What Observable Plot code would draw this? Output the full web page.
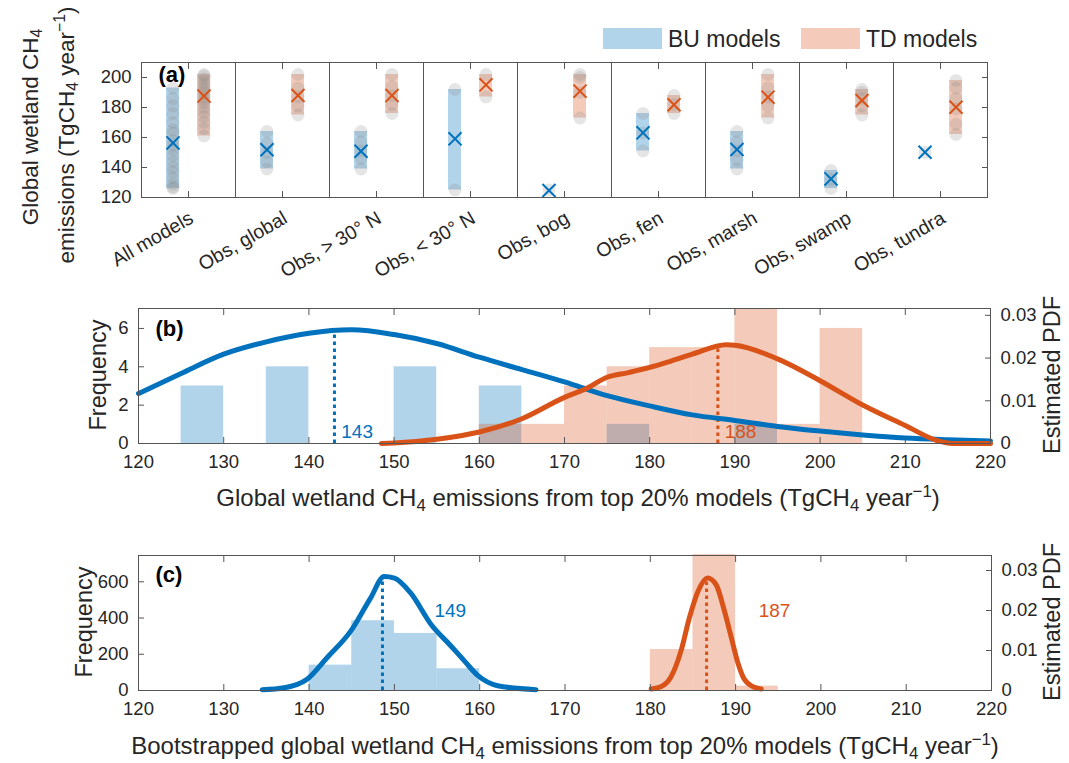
<!DOCTYPE html>
<html><head><meta charset="utf-8">
<script src="https://cdn.jsdelivr.net/npm/d3@7"></script>
<script src="https://cdn.jsdelivr.net/npm/@observablehq/plot@0.6"></script>
<style>
body{margin:0;background:#fff;font-family:"Liberation Sans",Arial,Helvetica,sans-serif;}
#fig{position:relative;width:1069px;height:763px;overflow:hidden;background:#fff;}
.p{position:absolute;left:0;}
.lab{position:absolute;white-space:nowrap;color:#262626;font-size:23.5px;line-height:1;}
.rot{transform:translate(-50%,-50%) rotate(-90deg);}
.hc{transform:translate(-50%,-50%);}
sub{font-size:70%;vertical-align:-0.3em;line-height:0;}
sup{font-size:70%;vertical-align:0.55em;line-height:0;}
.sw{position:absolute;}
</style>
</head><body>
<div id="fig"></div>
<script>
// ---------- DATA ----------
const BLUE = "#0072BD", ORANGE = "#D95319";
const catsA = ["All models","Obs, global","Obs, > 30° N","Obs, < 30° N","Obs, bog","Obs, fen","Obs, marsh","Obs, swamp","Obs, tundra"];
const buPoints = [
  [126,127,129,133,137,140,144,148,152,155,158,163,165,170,176,181,186,193],
  [139,144,150,156,164],
  [139,146,151,157,164],
  [125,192],
  [125],
  [151,163,176],
  [139,145,151,157,164],
  [126,132,138],
  [150]
];
const tdPoints = [
  [161,166,170,174,177,180,183,185,187,189,191,193,195,197,199,201,202],
  [175,181,187,193,202],
  [176,182,188,194,202],
  [187,202],
  [173,190,200,202],
  [176,182,188],
  [173,181,187,193,202],
  [175,181,186,190,192],
  [162,169,179,186,193,198]
];
const buMean = [156.4,151.8,150.8,159.1,124.7,163.1,152.0,132.4,150.2];
const tdMean = [187.6,188.0,188.0,195.1,190.9,181.8,186.9,184.7,180.2];

// panel b histograms (lower bin edge, counts), bin width 5
const binW = 5;
const bBuEdges = [125,135,150,160,175,190];
const bBuCounts = [3,4,4,3,1,1];
const bTdEdges = [160,165,170,175,180,185,190,195,200];
const bTdCounts = [1,1,3,4,5,5,7,1,6];
// panel b KDE (estimated PDF)
const bBuKdeX = [120,125,130,135,140,145,150,155,160,165,170,175,180,185,190,195,200,205,210,215,220];
const bBuKde  = [0.0117,0.0164,0.0209,0.0238,0.0258,0.0266,0.0255,0.0234,0.0202,0.0173,0.0144,0.0112,0.0088,0.0067,0.0054,0.0040,0.0029,0.0020,0.0013,0.0009,0.0006];
const bTdKdeX = [148.5,150,155,160,165,170,172.5,175,177.5,180,182.5,185,189,190,195,200,205,210,213.7,215.5,220];
const bTdKde  = [0,0.0001,0.0010,0.0027,0.0058,0.0108,0.0128,0.0155,0.0166,0.0178,0.0193,0.0209,0.0231,0.0230,0.0198,0.0147,0.0090,0.0042,0.0007,0,0];
const bModes = [143,188];
const bModePdf = [0.0264,0.0229];

// panel c histograms
const cBuEdges = [140,145,150,155];
const cBuCounts = [140,385,315,120];
const cTdEdges = [180,185,190];
const cTdCounts = [226,750,24];
const cBuKdeX = [134.5,137.1,139.8,142.1,144.9,147.2,148.8,150,151.9,154.3,156.6,158.2,159.8,162.1,166.6];
const cBuKde  = [0.0002,0.0007,0.0029,0.0082,0.0149,0.0231,0.0285,0.0281,0.0244,0.0165,0.0112,0.0074,0.0037,0.0012,0.0002];
const cTdKdeX = [180.1,181.3,182.4,183.6,184.6,185.6,186.7,187.7,188.7,189.5,190.3,191.0,192.2,193.0];
const cTdKde  = [0.0004,0.0010,0.0033,0.0099,0.0183,0.0248,0.0281,0.0265,0.0198,0.0132,0.0067,0.0029,0.0008,0.0004];
const cModes = [148.6,186.6];
const cModePdf = [0.0284,0.0280];

const xTicks = [120,130,140,150,160,170,180,190,200,210,220];
const aTicks = [120,140,160,180,200];
const bFreqTicks = [0,2,4,6];
const cFreqTicks = [0,200,400,600];
const pdfTicks = [0,0.01,0.02,0.03];

// axis extents
const aY = [120,210];
const bY = [0,7.04], bPdfTop = 0.0316;
const cY = [0,745], cPdfTop = 0.03375;

// ---------- BUILD ----------
const FONT = '"Liberation Sans",Arial,Helvetica,sans-serif';
const AX = "#555";
const fig = document.getElementById("fig");
const style = {fontFamily: FONT, fontSize: "18.5px", color: "#262626", background: "transparent", overflow: "visible"};

function place(svg, top){ svg.classList.add("p"); svg.style.top = top + "px"; fig.appendChild(svg); }

// Panel (a)
const ptsA = [], rngA = [], meanA = [];
catsA.forEach((c,i)=>{
  buPoints[i].forEach(v=>ptsA.push({cat:c,type:"BU",v}));
  tdPoints[i].forEach(v=>ptsA.push({cat:c,type:"TD",v}));
  rngA.push({cat:c,type:"BU",lo:d3.min(buPoints[i]),hi:d3.max(buPoints[i])});
  rngA.push({cat:c,type:"TD",lo:d3.min(tdPoints[i]),hi:d3.max(tdPoints[i])});
  meanA.push({cat:c,type:"BU",v:buMean[i]});
  meanA.push({cat:c,type:"TD",v:tdMean[i]});
});
const A = Plot.plot({
  width:1069, height:290, marginTop:62, marginBottom:93, marginLeft:138, marginRight:79,
  style,
  fx:{domain:catsA, padding:0, label:null},
  x:{type:"band", domain:["BU","TD"], paddingInner:0.58, paddingOuter:0.8, axis:null},
  y:{domain:aY, label:null},
  marks:[
    Plot.barY(rngA.filter(d=>d.type==="BU"),{fx:"cat",x:"type",y1:"lo",y2:"hi",fill:BLUE,fillOpacity:0.3}),
    Plot.barY(rngA.filter(d=>d.type==="TD"),{fx:"cat",x:"type",y1:"lo",y2:"hi",fill:ORANGE,fillOpacity:0.3}),
    Plot.dot(ptsA,{fx:"cat",x:"type",y:"v",r:6.5,fill:"#8a8a8a",fillOpacity:0.22,stroke:"none"}),
    Plot.dot(meanA.filter(d=>d.type==="BU"),{fx:"cat",x:"type",y:"v",symbol:"times",r:6,stroke:BLUE,strokeWidth:2}),
    Plot.dot(meanA.filter(d=>d.type==="TD"),{fx:"cat",x:"type",y:"v",symbol:"times",r:6,stroke:ORANGE,strokeWidth:2}),
    Plot.frame({stroke:AX}),
    Plot.axisY({anchor:"left", ticks:aTicks, tickSize:-6, fill:"none", stroke:AX, label:null}),
    Plot.axisY({anchor:"right", ticks:aTicks, tickSize:-6, fill:"none", stroke:AX, label:null}),
    Plot.axisY({anchor:"left", ticks:aTicks, tickFormat:d=>String(d), tickSize:0, tickPadding:10, stroke:"none", fill:"#262626", label:null}),
    Plot.axisFx({anchor:"bottom", tickSize:-6, fill:"none", stroke:AX, label:null}),
    Plot.axisFx({anchor:"top", tickSize:-6, fill:"none", stroke:AX, label:null}),
    Plot.axisFx({anchor:"bottom", tickSize:0, tickPadding:19, dx:3, tickRotate:-30, fontSize:19.5, stroke:"none", fill:"#262626", label:null}),
    Plot.text(["(a)"],{frameAnchor:"top-left", dx:17, dy:4, lineAnchor:"top", fontWeight:"bold", fontSize:22, fill:"#000", facetAnchor:"left"})
  ]
});
place(A, 0);

function panel(o){
  const K = o.yDom[1] / o.pdfTop;
  const mk = (edges, counts, color) => Plot.rectY(edges.map((e,i)=>({lo:e,hi:e+binW,n:counts[i]})),{x1:"lo",x2:"hi",y:"n",fill:color,fillOpacity:0.3,inset:0});
  const kde = (xs, ps) => xs.map((x,i)=>({x, f: ps[i]*K}));
  return Plot.plot({
    width:1069, height:o.h, marginTop:o.mt, marginBottom:o.mb, marginLeft:138, marginRight:o.mr,
    style,
    x:{domain:[120,220], label:null},
    y:{domain:o.yDom, label:null},
    marks:[
      mk(o.buE,o.buC,BLUE),
      mk(o.tdE,o.tdC,ORANGE),
      Plot.ruleX([0,1],{x:i=>o.modes[i], y1:0, y2:i=>o.modePdf[i]*K, stroke:i=>[BLUE,ORANGE][i], strokeWidth:3, strokeDasharray:"3.5,3.5"}),
      Plot.line(kde(o.buKx,o.buK),{x:"x",y:"f",stroke:BLUE,strokeWidth:5,curve:"monotone-x"}),
      Plot.line(kde(o.tdKx,o.tdK),{x:"x",y:"f",stroke:ORANGE,strokeWidth:5,curve:"monotone-x"}),
      Plot.text([0,1],{x:i=>o.modes[i]+o.lblDx, y:o.lblY, text:i=>d3.format(".0f")(o.modes[i]), fill:i=>[BLUE,ORANGE][i], textAnchor:"start", fontSize:19}),
      Plot.frame({stroke:AX}),
      Plot.axisX({anchor:"bottom", ticks:xTicks, tickSize:-6, fill:"none", stroke:AX, label:null}),
      Plot.axisX({anchor:"top", ticks:xTicks, tickSize:-6, fill:"none", stroke:AX, label:null}),
      Plot.axisX({anchor:"bottom", ticks:xTicks, tickFormat:d=>String(d), tickSize:0, tickPadding:11, stroke:"none", fill:"#262626", label:null}),
      Plot.axisY({anchor:"left", ticks:o.fTicks, tickSize:-6, fill:"none", stroke:AX, label:null}),
      Plot.axisY({anchor:"left", ticks:o.fTicks, tickFormat:d=>String(d), tickSize:0, tickPadding:10, stroke:"none", fill:"#262626", label:null}),
      Plot.axisY({anchor:"right", ticks:pdfTicks.map(p=>p*K), tickSize:-6, fill:"none", stroke:AX, label:null}),
      Plot.axisY({anchor:"right", ticks:pdfTicks.map(p=>p*K), tickFormat:f=>{const v=Math.round(f/K*100)/100; return v===0?"0":v.toFixed(2);}, tickSize:0, tickPadding:10, stroke:"none", fill:"#262626", label:null}),
      Plot.text([o.letter],{frameAnchor:"top-left", dx:17, dy:o.letterDy, lineAnchor:"top", fontWeight:"bold", fontSize:22, fill:"#000"})
    ]
  });
}
const B = panel({h:230, mt:18, mb:77, mr:79, yDom:bY, pdfTop:bPdfTop, buE:bBuEdges, buC:bBuCounts, tdE:bTdEdges, tdC:bTdCounts,
  buKx:bBuKdeX, buK:bBuKde, tdKx:bTdKdeX, tdK:bTdKde, modes:bModes, modePdf:bModePdf, lblDx:0.8, lblY:0.6, fTicks:bFreqTicks, letter:"(b)", letterDy:12});
place(B, 290);
const C = panel({h:243, mt:35, mb:73, mr:78, yDom:cY, pdfTop:cPdfTop, buE:cBuEdges, buC:cBuCounts, tdE:cTdEdges, tdC:cTdCounts,
  buKx:cBuKdeX, buK:cBuKde, tdKx:cTdKdeX, tdK:cTdKde, modes:cModes, modePdf:cModePdf, lblDx:6.1, lblY:441, fTicks:cFreqTicks, letter:"(c)", letterDy:11});
place(C, 520);

// ---------- HTML labels ----------
function lab(html, x, y, cls, fs){ const d=document.createElement("div"); d.className="lab "+cls; d.style.left=x+"px"; d.style.top=y+"px"; if(fs) d.style.fontSize=fs+"px"; d.innerHTML=html; fig.appendChild(d); return d; }
lab("Global wetland CH<sub>4</sub>", 31, 127, "rot", 22.5);
lab("emissions (TgCH<sub>4</sub> year<sup>−1</sup>)", 67, 135, "rot", 22.5);
lab("Frequency", 99, 375, "rot");
lab("Estimated PDF", 1053, 375, "rot");
lab("Global wetland CH<sub>4</sub> emissions from top 20% models (TgCH<sub>4</sub> year<sup>−1</sup>)", 578, 498, "hc", 24);
lab("Frequency", 85, 622, "rot");
lab("Estimated PDF", 1053, 622, "rot");
lab("Bootstrapped global wetland CH<sub>4</sub> emissions from top 20% models (TgCH<sub>4</sub> year<sup>−1</sup>)", 565, 746, "hc", 24);

// legend
const legendItems = [{t:"BU models", c:BLUE, x:603}, {t:"TD models", c:ORANGE, x:801}];
legendItems.forEach(it=>{
  const s=document.createElement("div"); s.className="sw";
  Object.assign(s.style,{left:it.x+"px", top:"28px", width:"59px", height:"21px", background:it.c, opacity:0.3});
  fig.appendChild(s);
  const l = lab(it.t, it.x+65, 39, "", 23); l.style.transform="translateY(-50%)";
});
</script>
</body></html>
